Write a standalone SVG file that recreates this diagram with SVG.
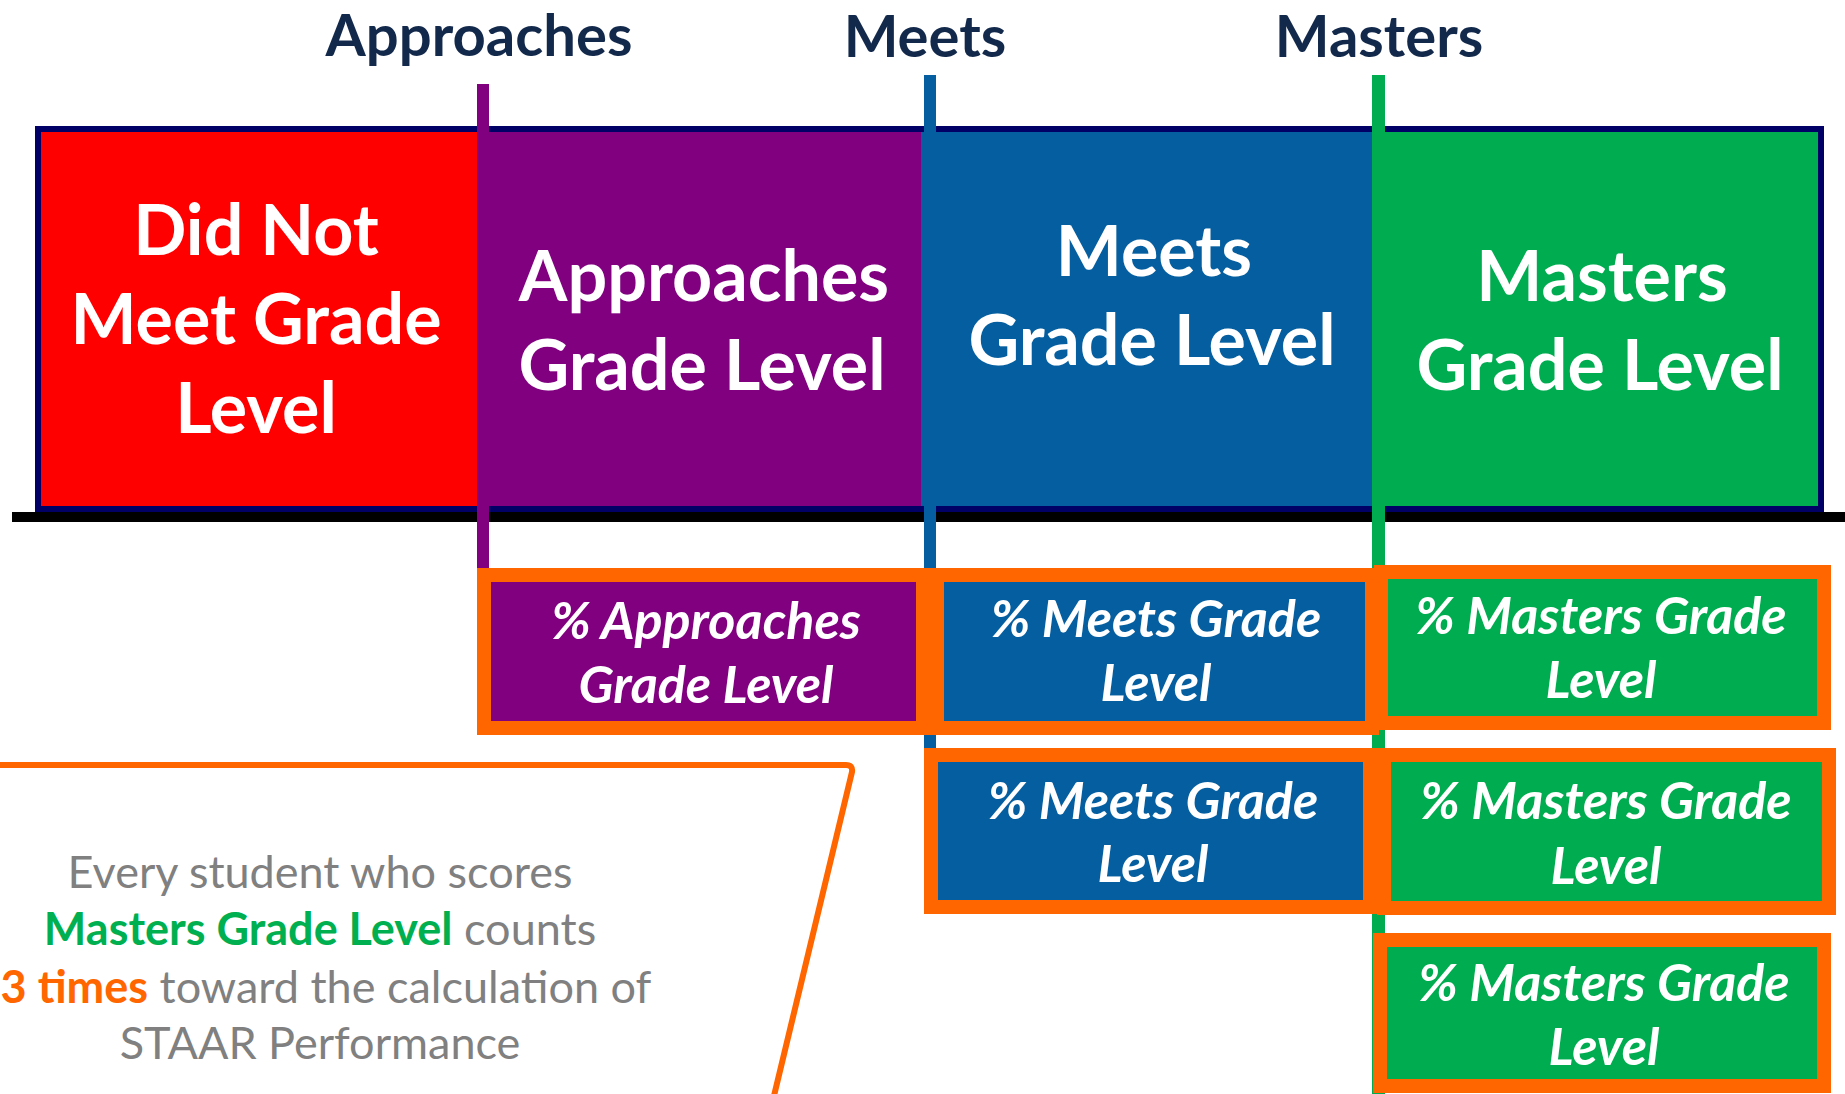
<svg xmlns="http://www.w3.org/2000/svg" width="1845" height="1094" viewBox="0 0 1845 1094">
<style>
.lbl{font-family:Lato,"Open Sans","Liberation Sans",sans-serif;font-weight:bold;font-size:58px;fill:#13294B;text-anchor:middle}
.big{font-family:Lato,"Open Sans","Liberation Sans",sans-serif;font-weight:bold;font-size:70px;fill:#fff;text-anchor:middle}
.sm{font-family:Lato,"Open Sans","Liberation Sans",sans-serif;font-weight:bold;font-style:italic;font-size:52px;fill:#fff;text-anchor:middle}
.note{font-family:Lato,"Open Sans","Liberation Sans",sans-serif;font-size:45px;fill:#808080;text-anchor:middle}
.frame{stroke:#FF6600;stroke-width:14}
</style>
<rect width="1845" height="1094" fill="#fff"/>
<g id="labels">
<text class="lbl" x="479" y="56">Approaches</text>
<text class="lbl" x="925" y="57">Meets</text>
<text class="lbl" x="1379" y="57">Masters</text>
</g>
<g id="bar">
<rect x="35" y="126" width="442" height="386" fill="#FF0000"/>
<rect x="477" y="126" width="444" height="386" fill="#800080"/>
<rect x="921" y="126" width="451" height="386" fill="#045E9F"/>
<rect x="1372" y="126" width="452" height="386" fill="#00AC50"/>
<rect x="38" y="129" width="1783" height="380" fill="none" stroke="#000066" stroke-width="6"/>
<rect x="12" y="512" width="1833" height="10" fill="#000"/>
</g>
<g id="connectors">
<rect x="477" y="84" width="12" height="484" fill="#800080"/>
<rect x="924" y="75" width="12" height="830" fill="#045E9F"/>
<rect x="1372" y="75" width="13" height="1019" fill="#00AC50"/>
</g>
<g id="did-not-meet"><text class="big" x="256" y="255">Did Not</text><text class="big" x="256" y="344">Meet Grade</text><text class="big" x="256" y="433">Level</text></g>
<g id="approaches"><text class="big" x="704" y="301">Approaches</text><text class="big" x="702" y="390">Grade Level</text></g>
<g id="meets"><text class="big" x="1154" y="276">Meets</text><text class="big" x="1152" y="365">Grade Level</text></g>
<g id="masters"><text class="big" x="1602" y="301">Masters</text><text class="big" x="1600" y="390">Grade Level</text></g>
<g id="pct-approaches">
<rect x="484" y="575" width="439" height="153" fill="#800080" class="frame"/>
<text class="sm" x="706" y="639">% Approaches</text><text class="sm" x="706" y="703">Grade Level</text>
</g>
<g id="pct-meets-1">
<rect x="937" y="575" width="435" height="153" fill="#045E9F" class="frame"/>
<text class="sm" x="1156" y="637">% Meets Grade</text><text class="sm" x="1156" y="701">Level</text>
</g>
<g id="pct-masters-1">
<rect x="1381" y="572" width="443" height="151" fill="#00AC50" class="frame"/>
<text class="sm" x="1601" y="634">% Masters Grade</text><text class="sm" x="1601" y="698">Level</text>
</g>
<g id="pct-meets-2">
<rect x="931" y="755" width="439" height="152" fill="#045E9F" class="frame"/>
<text class="sm" x="1153" y="819">% Meets Grade</text><text class="sm" x="1153" y="882">Level</text>
</g>
<g id="pct-masters-2">
<rect x="1384" y="755" width="445" height="153" fill="#00AC50" class="frame"/>
<text class="sm" x="1606" y="819">% Masters Grade</text><text class="sm" x="1606" y="884">Level</text>
</g>
<g id="pct-masters-3">
<rect x="1380" y="940" width="444" height="146" fill="#00AC50" class="frame"/>
<text class="sm" x="1604" y="1001">% Masters Grade</text><text class="sm" x="1604" y="1065">Level</text>
</g>
<g id="callout">
<path d="M -5 765 L 846 765 Q 853 765 852 772 L 773 1100" fill="none" stroke="#FF6600" stroke-width="6"/>
<text class="note" x="320" y="888">Every student who scores</text>
<text class="note" x="320" y="945"><tspan fill="#00B050" font-weight="bold">Masters Grade Level</tspan> counts</text>
<text class="note" x="326" y="1003"><tspan fill="#FF6600" font-weight="bold">3 times</tspan> toward the calculation of</text>
<text class="note" x="320" y="1059">STAAR Performance</text>
</g>
</svg>
